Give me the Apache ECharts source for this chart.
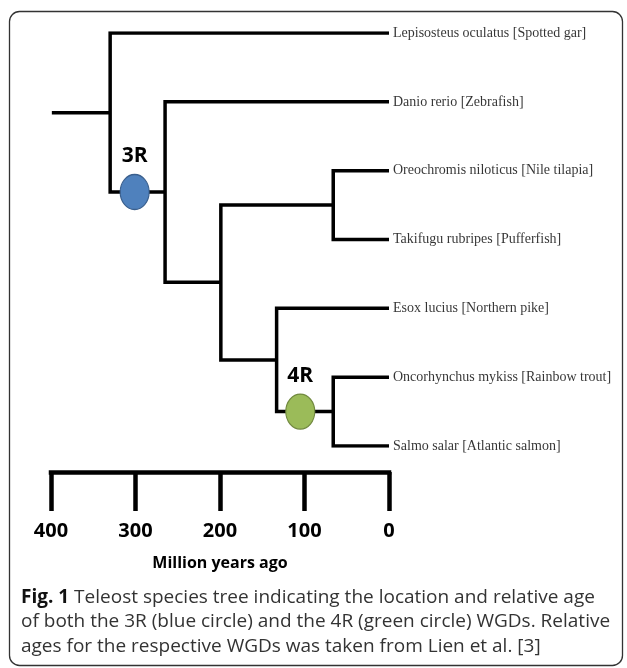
<!DOCTYPE html>
<html>
<head>
<meta charset="utf-8">
<script src="https://cdn.jsdelivr.net/npm/echarts@6/dist/echarts.min.js"></script>
<style>html,body{margin:0;padding:0;background:#fff;}#c{width:627px;height:668px;}</style>
</head>
<body>
<div id="c"></div>
<script>
// ---- data ----
// tips (time in million years ago, row = vertical leaf slot)
const tipNames = [
  'Lepisosteus oculatus [Spotted gar]',
  'Danio rerio [Zebrafish]',
  'Oreochromis niloticus [Nile tilapia]',
  'Takifugu rubripes [Pufferfish]',
  'Esox lucius [Northern pike]',
  'Oncorhynchus mykiss [Rainbow trout]',
  'Salmo salar [Atlantic salmon]'
];
const tipRows = [0, 1, 2, 3, 4, 5, 6];
const tipTimes = [0, 0, 0, 0, 0, 0, 0];
// internal nodes
const nodeIds = ['A', 'B', 'C', 'D', 'E', 'F'];
const nodeTimes = [330, 265, 199, 66, 133, 66];
const nodeRows = [1.16, 2.31, 3.62, 2.5, 4.75, 5.5];
// children of each internal node: 't#' tip index, 'n#' node index
const nodeChildren = [['t0', 'n1'], ['t1', 'n2'], ['n3', 'n4'], ['t2', 't3'], ['t4', 'n5'], ['t5', 't6']];
const stemStart = 399;
// WGD events
const wgdNames = ['3R', '4R'];
const wgdTimes = [301, 105];
const wgdNodes = [1, 5];
const wgdColors = ['#4f81bd', '#9bbb59'];
const wgdBorders = ['#3a5f8d', '#71893f'];
// scale
const scaleMin = 0, scaleMax = 400, scaleStep = 100;
const scaleTitle = 'Million years ago';

// ---- build ----
function pos(ref) {
  const i = +ref.slice(1);
  return ref[0] === 't' ? [tipTimes[i], tipRows[i]] : [nodeTimes[i], nodeRows[i]];
}
const segs = [];
segs.push({coords: [[stemStart, nodeRows[0]], [nodeTimes[0], nodeRows[0]]]});
nodeChildren.forEach((ch, i) => {
  const t = nodeTimes[i];
  const a = pos(ch[0]), b = pos(ch[1]);
  segs.push({coords: [[a[0], a[1]], [t, a[1]], [t, b[1]], [b[0], b[1]]]});
});

const tipData = tipNames.map((n, i) => ({name: n, value: [tipTimes[i], tipRows[i]]}));
const wgdData = wgdNames.map((n, i) => ({
  name: n,
  value: [wgdTimes[i], nodeRows[wgdNodes[i]]],
  itemStyle: {color: wgdColors[i], borderColor: wgdBorders[i], borderWidth: 1.2, opacity: 1}
}));

const ellipse = 'path://M50 0 A50 50 0 1 1 50 100 A50 50 0 1 1 50 0 Z';
const chart = echarts.init(document.getElementById('c'));
chart.setOption({
  animation: false,
  backgroundColor: '#fff',
  grid: [
    {left: 51, right: 238, top: 33, height: 413},
    {left: 51, right: 238, top: 472, height: 39}
  ],
  xAxis: [
    {gridIndex: 0, type: 'value', min: scaleMin, max: scaleMax, inverse: true, show: false},
    {gridIndex: 1, type: 'value', min: scaleMin, max: scaleMax, interval: scaleStep, inverse: true,
      position: 'top',
      axisLine: {show: true, onZero: false, lineStyle: {color: '#000', width: 4.5, cap: 'square'}},
      axisTick: {show: true, inside: true, length: 39, lineStyle: {color: '#000', width: 4.5}},
      axisLabel: {inside: true, margin: 49, color: '#000', fontFamily: 'Open Sans', fontWeight: 'bold', fontSize: 20},
      splitLine: {show: false}}
  ],
  yAxis: [
    {gridIndex: 0, type: 'value', min: 0, max: 6, inverse: true, show: false},
    {gridIndex: 1, type: 'value', min: 0, max: 1, show: false}
  ],
  series: [
    {type: 'lines', coordinateSystem: 'cartesian2d', xAxisIndex: 0, yAxisIndex: 0, polyline: true,
      lineStyle: {color: '#000', width: 3.5, opacity: 1, join: 'miter'}, data: segs, z: 2},
    {type: 'scatter', xAxisIndex: 0, yAxisIndex: 0, symbolSize: 0, data: tipData, z: 3,
      label: {show: true, position: 'right', distance: 4, formatter: '{b}', color: '#000',
        fontFamily: 'Liberation Serif', fontSize: 14}},
    {type: 'scatter', xAxisIndex: 0, yAxisIndex: 0, symbol: ellipse, symbolSize: [29, 35], data: wgdData, z: 5,
      itemStyle: {opacity: 1},
      label: {show: true, position: 'top', distance: 7, formatter: '{b}', color: '#000',
        fontFamily: 'Open Sans', fontWeight: 'bold', fontSize: 21}}
  ],
  graphic: [
    {type: 'rect', shape: {x: 9.5, y: 11.5, width: 613, height: 654, r: 10},
      style: {fill: 'none', stroke: '#333', lineWidth: 1.3}, z: 0},
    {type: 'text', x: 220, y: 563, style: {text: scaleTitle, fill: '#000', font: 'bold 16px "Open Sans"',
      align: 'center', verticalAlign: 'middle'}},
    {type: 'text', x: 21, y: 585, style: {
      text: '{b|Fig. 1} Teleost species tree indicating the location and relative age\nof both the 3R (blue circle) and the 4R (green circle) WGDs. Relative\nages for the respective WGDs was taken from Lien et al. [3]',
      fill: '#333', font: '19px "Open Sans"', lineHeight: 24.5, align: 'left', verticalAlign: 'top',
      rich: {b: {font: 'bold 19px "Open Sans"', fill: '#111', lineHeight: 24.5}}}}
  ]
});
</script>
</body>
</html>
